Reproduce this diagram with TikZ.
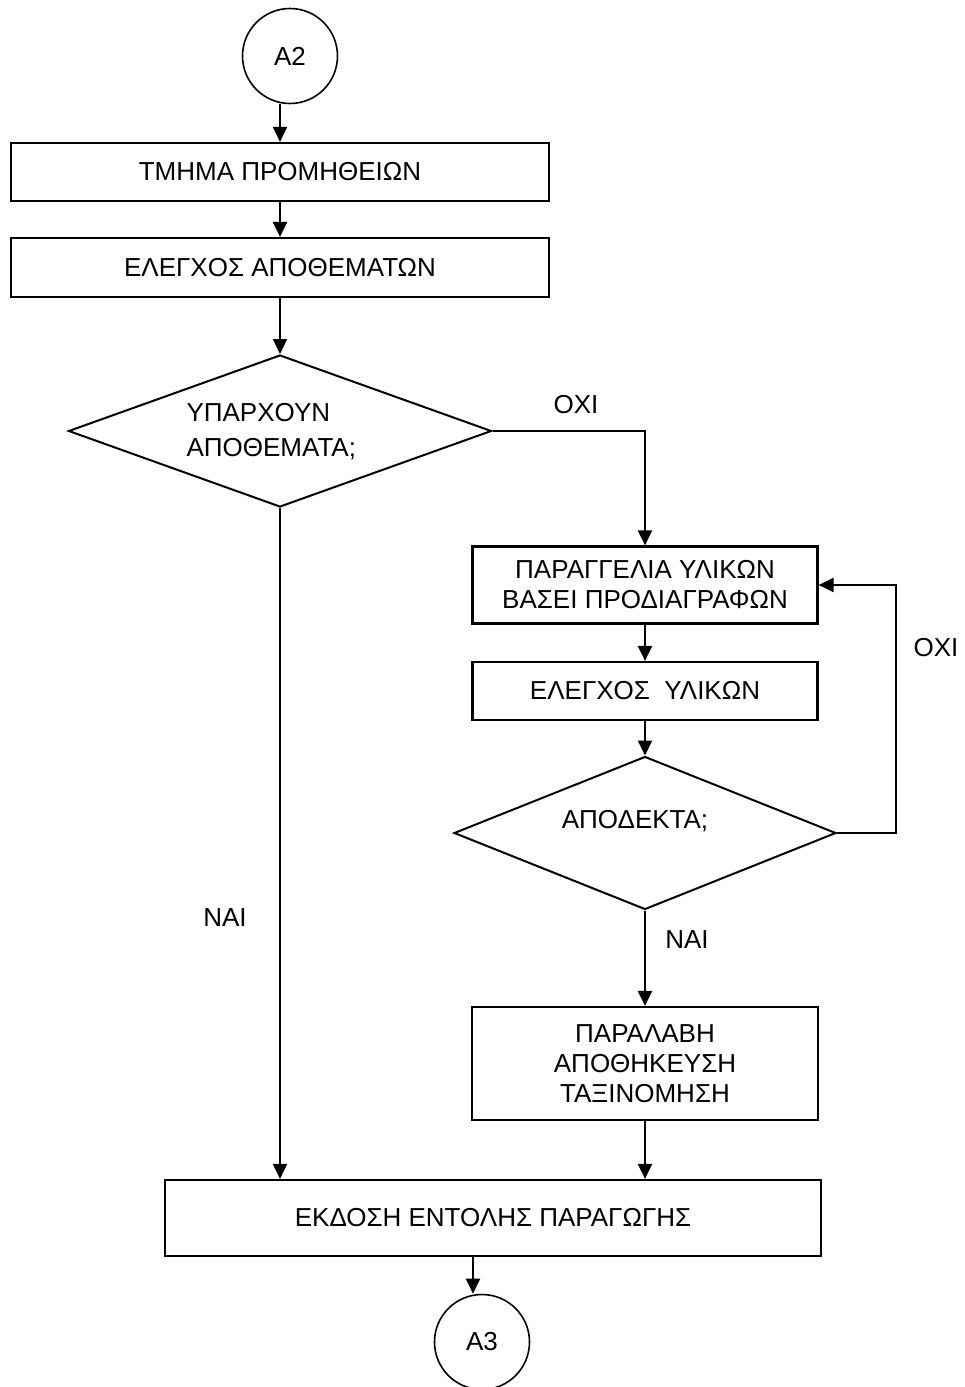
\documentclass[tikz,border=0pt]{standalone}
\usepackage{fontspec}
\setmainfont{Liberation Sans}
\usetikzlibrary{arrows.meta,shapes.geometric}
\begin{document}
\begin{tikzpicture}[x=1pt,y=-1pt,
  every node/.style={font=\fontsize{26}{30}\selectfont},
  procbox/.style={draw, line width=2.2pt, inner sep=0pt, align=center},
  decbox/.style={draw, diamond, line width=2pt, inner sep=0pt},
  conn/.style={draw, circle, line width=1.6pt, inner sep=0pt, minimum size=95pt},
  arr/.style={-{Triangle[length=15pt,width=14pt]}, line width=2.2pt}]
\useasboundingbox[fill=white] (0,0) rectangle (965,1387);
% nodes
\node[conn] (a2) at (290,56) {A2};
\node[procbox, minimum width=538pt, minimum height=58pt] (b1) at (280,172) {ΤΜΗΜΑ ΠΡΟΜΗΘΕΙΩΝ};
\node[procbox, minimum width=538pt, minimum height=59pt] (b2) at (280,267.5) {ΕΛΕΓΧΟΣ ΑΠΟΘΕΜΑΤΩΝ};
\node[decbox, minimum width=423pt, minimum height=152pt] (d1) at (280,431) {};
\node[anchor=west, align=left, font=\fontsize{26}{35}\selectfont] (t1) at (183,432) {ΥΠΑΡΧΟΥΝ\\ΑΠΟΘΕΜΑΤΑ;};
\node[procbox, minimum width=345pt, minimum height=77pt] (b3) at (645,585) {ΠΑΡΑΓΓΕΛΙΑ ΥΛΙΚΩΝ\\ΒΑΣΕΙ ΠΡΟΔΙΑΓΡΑΦΩΝ};
\node[procbox, minimum width=345pt, minimum height=58pt] (b4) at (645,691) {ΕΛΕΓΧΟΣ\ \ ΥΛΙΚΩΝ};
\node[decbox, minimum width=382pt, minimum height=153pt] (d2) at (645,833) {};
\node (t2) at (635,821) {ΑΠΟΔΕΚΤΑ;};
\node[procbox, minimum width=346pt, minimum height=113pt] (b5) at (645,1063.5) {ΠΑΡΑΛΑΒΗ\\ΑΠΟΘΗΚΕΥΣΗ\\ΤΑΞΙΝΟΜΗΣΗ};
\node[procbox, minimum width=656pt, minimum height=76pt] (b6) at (493,1218) {ΕΚΔΟΣΗ ΕΝΤΟΛΗΣ ΠΑΡΑΓΩΓΗΣ};
\node[conn] (a3) at (482,1342) {A3};
% labels
\node (oxi1) at (576,405) {ΟΧΙ};
\node (oxi2) at (936,648) {ΟΧΙ};
\node (nai1) at (225,918) {ΝΑΙ};
\node (nai2) at (687,940) {ΝΑΙ};
% connectors
\draw[arr] (a2.south -| b1.north) -- (b1.north);
\draw[arr] (b1.south) -- (b2.north);
\draw[arr] (b2.south) -- (d1.north);
\draw[arr] (d1.east) -| (b3.north);
\draw[arr] (b3.south) -- (b4.north);
\draw[arr] (b4.south) -- (d2.north);
\draw[arr] (d2.east) -- ++(59,0) |- (b3.east);
\draw[arr] (d2.south) -- (b5.north);
\draw[arr] (b5.south) -- (b5.south |- b6.north);
\draw[arr] (d1.south) -- (d1.south |- b6.north);
\coordinate (a3in) at (473,1256);
\draw[arr] (a3in) -- (a3in |- a3.north);
\end{tikzpicture}
\end{document}
